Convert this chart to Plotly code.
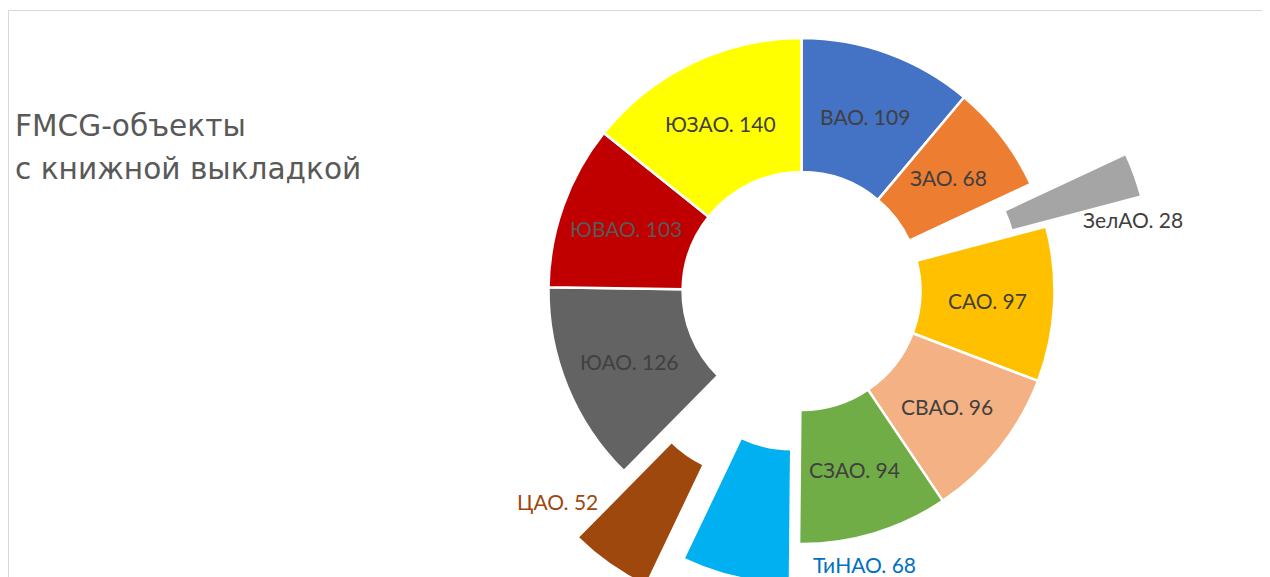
import numpy as np
import plotly.graph_objects as go

# ---------------- data ----------------
districts = ["ВАО", "ЗАО", "ЗелАО", "САО", "СВАО", "СЗАО", "ТиНАО", "ЦАО", "ЮАО", "ЮВАО", "ЮЗАО"]
objects_count = [109, 68, 28, 97, 96, 94, 68, 52, 126, 103, 140]
title_lines = ["FMCG-объекты", "с книжной выкладкой"]

# ---------------- styles ----------------
colors = ["#4472C4", "#ED7D31", "#A5A5A5", "#FFC000", "#F4B183", "#70AD47",
          "#00B0F0", "#9E480E", "#636363", "#C00000", "#FFFF00"]
explode = [0, 0, 0.40, 0, 0, 0, 0.16, 0.32, 0, 0, 0]      # fraction of radius
inside_text_color = ["#404040"] * 11
inside_text_color[9] = "#595959"
outside_text_color = {"ЗелАО": "#404040", "ТиНАО": "#0070C0", "ЦАО": "#9E480E"}
FONT = "Lato"
TITLE_FONT = "DejaVu Sans"

# page / figure geometry (pixels)
OX, OY = 8, 8                 # page offset of the figure (body margin)
W, H = 1262, 605
CX, CY = 801.5 - OX, 291 - OY  # donut centre in figure pixels
R = 253
HOLE = 0.47
LW = 2.5

vals = np.array(objects_count, dtype=float)
total = vals.sum()
mid_deg = (np.cumsum(vals) - vals / 2) / total * 360.0
mid_rad = np.deg2rad(mid_deg)


def domain_for(cx, cy):
    cy = max(cy, R)
    return dict(x=[(cx - R) / W, (cx + R) / W], y=[1 - (cy + R) / H, 1 - (cy - R) / H])


def pie_trace(visible_idx, cx, cy):
    cols = [colors[i] if i in visible_idx else "rgba(0,0,0,0)" for i in range(len(districts))]
    lws = [LW if i in visible_idx else 0 for i in range(len(districts))]
    return go.Pie(
        labels=districts, values=objects_count, sort=False, direction="clockwise",
        rotation=0, hole=HOLE, textinfo="none", hoverinfo="label+value",
        marker=dict(colors=cols, line=dict(color="white", width=lws)),
        domain=domain_for(cx, cy), showlegend=False,
    )


fig = go.Figure()
base_idx = [i for i, e in enumerate(explode) if e == 0]
fig.add_trace(pie_trace(base_idx, CX, CY))
for i, e in enumerate(explode):
    if e > 0:
        d = e * R
        fig.add_trace(pie_trace([i], CX + d * np.sin(mid_rad[i]), CY - d * np.cos(mid_rad[i])))

annotations = []
# inside labels at middle of ring
r_mid = (R + R * HOLE) / 2
for i in base_idx:
    x = CX + r_mid * np.sin(mid_rad[i])
    y = CY - r_mid * np.cos(mid_rad[i])
    annotations.append(dict(
        x=x / W, y=1 - y / H, xref="paper", yref="paper", xanchor="center", yanchor="middle",
        text=f"{districts[i]}. {objects_count[i]}", showarrow=False,
        font=dict(family=FONT, size=21, color=inside_text_color[i])))

# outside labels for exploded slices (page positions)
outside_pos = {"ЗелАО": (1133, 219), "ЦАО": (557.5, 501), "ТиНАО": (864, 564)}
for name, (px, py) in outside_pos.items():
    i = districts.index(name)
    annotations.append(dict(
        x=(px - OX) / W, y=1 - (py - OY) / H, xref="paper", yref="paper",
        xanchor="center", yanchor="middle", text=f"{name}. {objects_count[i]}",
        showarrow=False, font=dict(family=FONT, size=21, color=outside_text_color[name])))

# title
for line, py in zip(title_lines, [126, 169]):
    annotations.append(dict(
        x=(13 - OX) / W, y=1 - (py - OY) / H, xref="paper", yref="paper",
        xanchor="left", yanchor="middle", text=line, showarrow=False,
        font=dict(family=TITLE_FONT, size=29.6, color="#595959")))

fig.update_layout(
    width=W, height=H, margin=dict(l=0, r=0, t=0, b=0),
    paper_bgcolor="white", plot_bgcolor="white",
    annotations=annotations,
    shapes=[dict(type="rect", xref="paper", yref="paper", x0=0.5 / W, x1=1.02,
                 y0=-0.05, y1=1 - 2.5 / H, line=dict(color="#D9D9D9", width=1))],
)

fig.write_html("out.html")
